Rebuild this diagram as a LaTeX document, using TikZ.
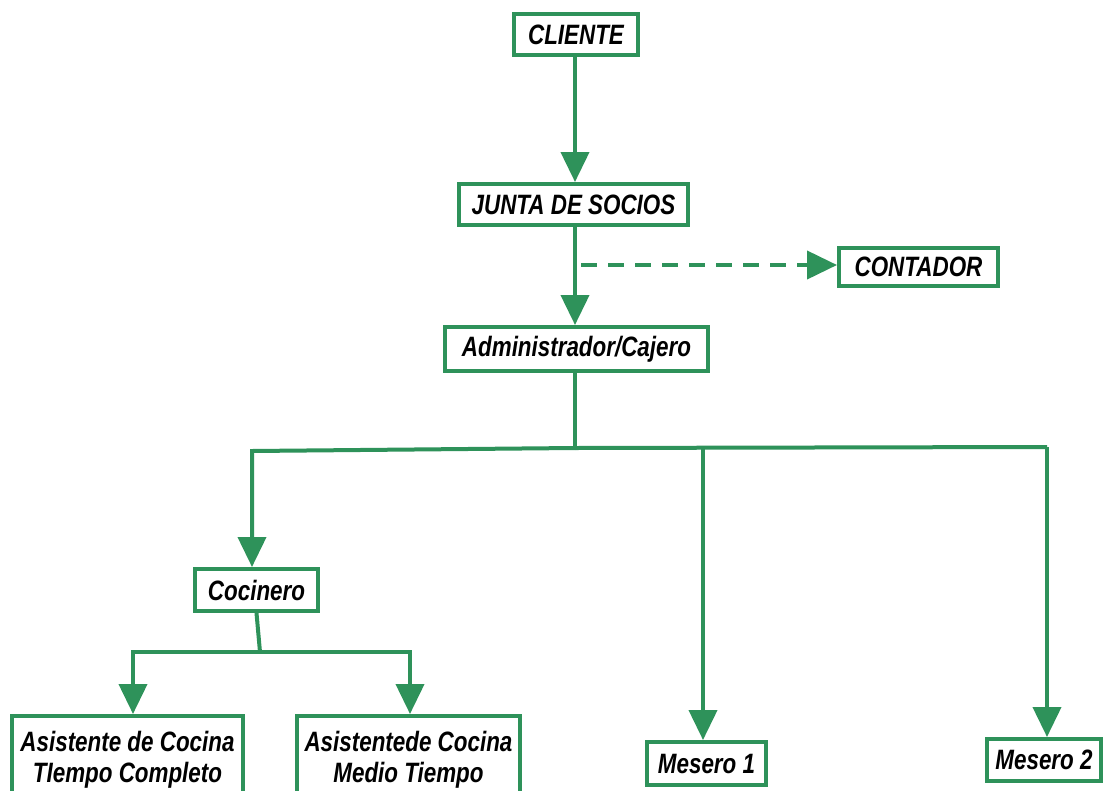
\documentclass[tikz,border=0pt]{standalone}
\usepackage{fontspec}
\setmainfont{Liberation Sans}[FakeStretch=0.8]
\usetikzlibrary{arrows.meta}
\definecolor{orggreen}{RGB}{46,146,90}
\begin{document}
\begin{tikzpicture}[x=1pt,y=-1pt,
  box/.style={draw=orggreen, line width=4pt, fill=white, inner sep=0pt,
    text=black, align=center,
    font=\fontsize{28}{31}\selectfont\bfseries\itshape},
  link/.style={draw=orggreen, line width=4pt, line join=miter},
  arr/.style={link, -{Triangle[length=30pt,width=28pt]}},
  dashlink/.style={arr, dash pattern=on 16pt off 11pt}
]
\useasboundingbox (0,0) rectangle (1105,790);
\clip (0,0) rectangle (1105,790);
\fill[white] (0,0) rectangle (1105,790);

% boxes of the chart
\node[box, minimum width=124pt, minimum height=41pt] (cliente) at (576,34.5) {CLIENTE};
\node[box, minimum width=229pt, minimum height=41pt] (junta) at (573.5,204.5) {JUNTA DE SOCIOS};
\node[box, minimum width=159pt, minimum height=38pt] (contador) at (918.5,267) {CONTADOR};
\node[box, minimum width=263pt, minimum height=44pt] (admin) at (576.5,349) {Administrador/Cajero};
\node[box, minimum width=123pt, minimum height=42pt] (cocinero) at (256.5,590) {Cocinero};
\node[box, minimum width=231pt, minimum height=88pt] (asist1) at (127.5,760) {Asistente de Cocina\\TIempo Completo};
\node[box, minimum width=223pt, minimum height=88pt] (asist2) at (408.5,760) {Asistentede Cocina\\Medio Tiempo};
\node[box, minimum width=119pt, minimum height=43pt] (mesero1) at (706.5,763.5) {Mesero 1};
\node[box, minimum width=114pt, minimum height=42pt] (mesero2) at (1044,760) {Mesero 2};

% main vertical axis
\coordinate (axis) at (575,0);
\draw[arr] (cliente.south -| axis) -- (junta.north -| axis);
\draw[arr] (junta.south -| axis) -- (admin.north -| axis);

% dashed link to the accountant
\coordinate (tap) at (581,265);
\draw[dashlink] (tap) -- (tap -| contador.west);

% branches under the administrator
\coordinate (hub) at (575,448);
\coordinate (bl) at (252,451);
\coordinate (bm) at (703,449);
\coordinate (br) at (1047,447);
\draw[link] (admin.south -| axis) -- (hub);
\draw[arr] (hub) -- (bl) -- (bl |- cocinero.north);
\draw[link] (hub) -- (br);
\draw[arr] (br) -- (br |- mesero2.north);
\draw[arr] (bm) -- (bm |- mesero1.north);

% branches under the cook
\coordinate (kh) at (260,652);
\coordinate (kl) at (133,652);
\coordinate (kr) at (410,652);
\draw[link] (cocinero.south) -- (kh);
\draw[arr] (kh) -- (kl) -- (kl |- asist1.north);
\draw[arr] (kh) -- (kr) -- (kr |- asist2.north);
\end{tikzpicture}
\end{document}
